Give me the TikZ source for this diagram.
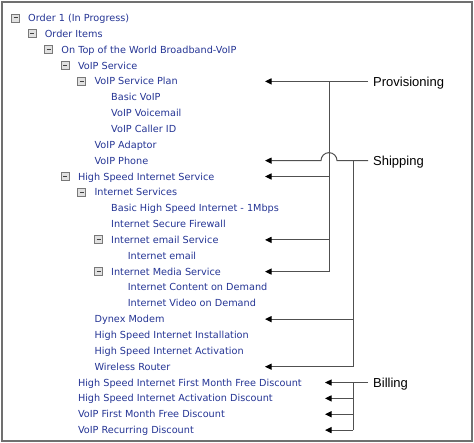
\documentclass[tikz,border=0pt]{standalone}
\usepackage{fontspec}
\newfontfamily\itemfamily{DejaVu Sans}
\newfontfamily\labfamily{Liberation Sans}
\usetikzlibrary{arrows.meta}
\definecolor{itemblue}{RGB}{36,52,148}
\definecolor{framegray}{RGB}{112,112,112}
\definecolor{linegray}{RGB}{80,80,80}
\definecolor{boxgray}{RGB}{120,120,120}
\definecolor{boxfill}{RGB}{225,225,225}
\tikzset{
  item/.style={anchor=west, inner sep=0pt, text=itemblue,
    font=\itemfamily\fontsize{9.7}{12}\selectfont, text height=7.1pt, text depth=0pt},
  expbox/.style={draw=boxgray, fill=boxfill, line width=0.9pt, minimum size=8pt, inner sep=0pt,
    path picture={\draw[black!75, line width=1pt]
      ([xshift=2pt]path picture bounding box.west) -- ([xshift=-2pt]path picture bounding box.east);}},
  lab/.style={anchor=west, inner xsep=5pt, inner ysep=0pt, text=black,
    font=\labfamily\fontsize{13}{15}\selectfont, text height=9.3pt, text depth=0pt},
  conn/.style={draw=linegray, line width=1pt},
  arr/.style={conn, -{Triangle[length=6.5pt,width=6pt,color=black]}},
}
\begin{document}
\begin{tikzpicture}[x=1pt,y=-1pt]
\useasboundingbox (0,0) rectangle (474,443);
\draw[framegray, line width=2pt] (1.5,2.5) rectangle (472,441.5);
% rows
\foreach \i/\lev/\txt in {
 0/0/Order 1 (In Progress),
 1/1/Order Items,
 2/2/On Top of the World Broadband-VoIP,
 3/3/VoIP Service,
 4/4/VoIP Service Plan,
 5/5/Basic VoIP,
 6/5/VoIP Voicemail,
 7/5/VoIP Caller ID,
 8/4/VoIP Adaptor,
 9/4/VoIP Phone,
 10/3/High Speed Internet Service,
 11/4/Internet Services,
 12/5/Basic High Speed Internet - 1Mbps,
 13/5/Internet Secure Firewall,
 14/5/Internet email Service,
 15/6/Internet email,
 16/5/Internet Media Service,
 17/6/Internet Content on Demand,
 18/6/Internet Video on Demand,
 19/4/Dynex Modem,
 20/4/High Speed Internet Installation,
 21/4/High Speed Internet Activation,
 22/4/Wireless Router,
 23/3/High Speed Internet First Month Free Discount,
 24/3/High Speed Internet Activation Discount,
 25/3/VoIP First Month Free Discount,
 26/3/VoIP Recurring Discount}
 \node[item] (r\i) at ({28+16.6*\lev},{18+15.85*\i}) {\txt};
% expand boxes
\foreach \i/\lev in {0/0,1/1,2/2,3/3,4/4,10/3,11/4,14/5,16/5}
 \node[expbox] (b\i) at ({15.5+16.6*\lev},{18+15.85*\i}) {};
% labels
\node[lab] (prov) at (368,{18+15.85*4}) {Provisioning};
\node[lab] (ship) at (368,{18+15.85*9}) {Shipping};
\node[lab] (bill) at (368,{18+15.85*23}) {Billing};
% tip coordinates and junctions
\foreach \i in {4,9,10,14,16,19,22}
 \coordinate (t\i) at (265,{18+15.85*\i});
\foreach \i in {23,24,25,26}
 \coordinate (t\i) at (325,{18+15.85*\i});
\foreach \i in {4,10,14,16}
 \coordinate (p\i) at (329,{18+15.85*\i});
\foreach \i in {9,19,22,23,24,25,26}
 \coordinate (s\i) at (353,{18+15.85*\i});
% Provisioning
\draw[conn] (p4) -- (p16);
\draw[arr] (prov.west) -- (t4);
\draw[arr] (p10) -- (t10);
\draw[arr] (p14) -- (t14);
\draw[arr] (p16) -- (t16);
% Shipping
\draw[conn] (s9) -- (s22);
\draw[arr] (ship.west) -- ([xshift=8pt]p4 |- s9) arc[start angle=0, end angle=180, radius=8pt] -- (t9);
\draw[arr] (s19) -- (t19);
\draw[arr] (s22) -- (t22);
% Billing
\draw[conn] (s23) -- (s26);
\draw[arr] (bill.west) -- (t23);
\draw[arr] (s24) -- (t24);
\draw[arr] (s25) -- (t25);
\draw[arr] (s26) -- (t26);
\end{tikzpicture}
\end{document}
